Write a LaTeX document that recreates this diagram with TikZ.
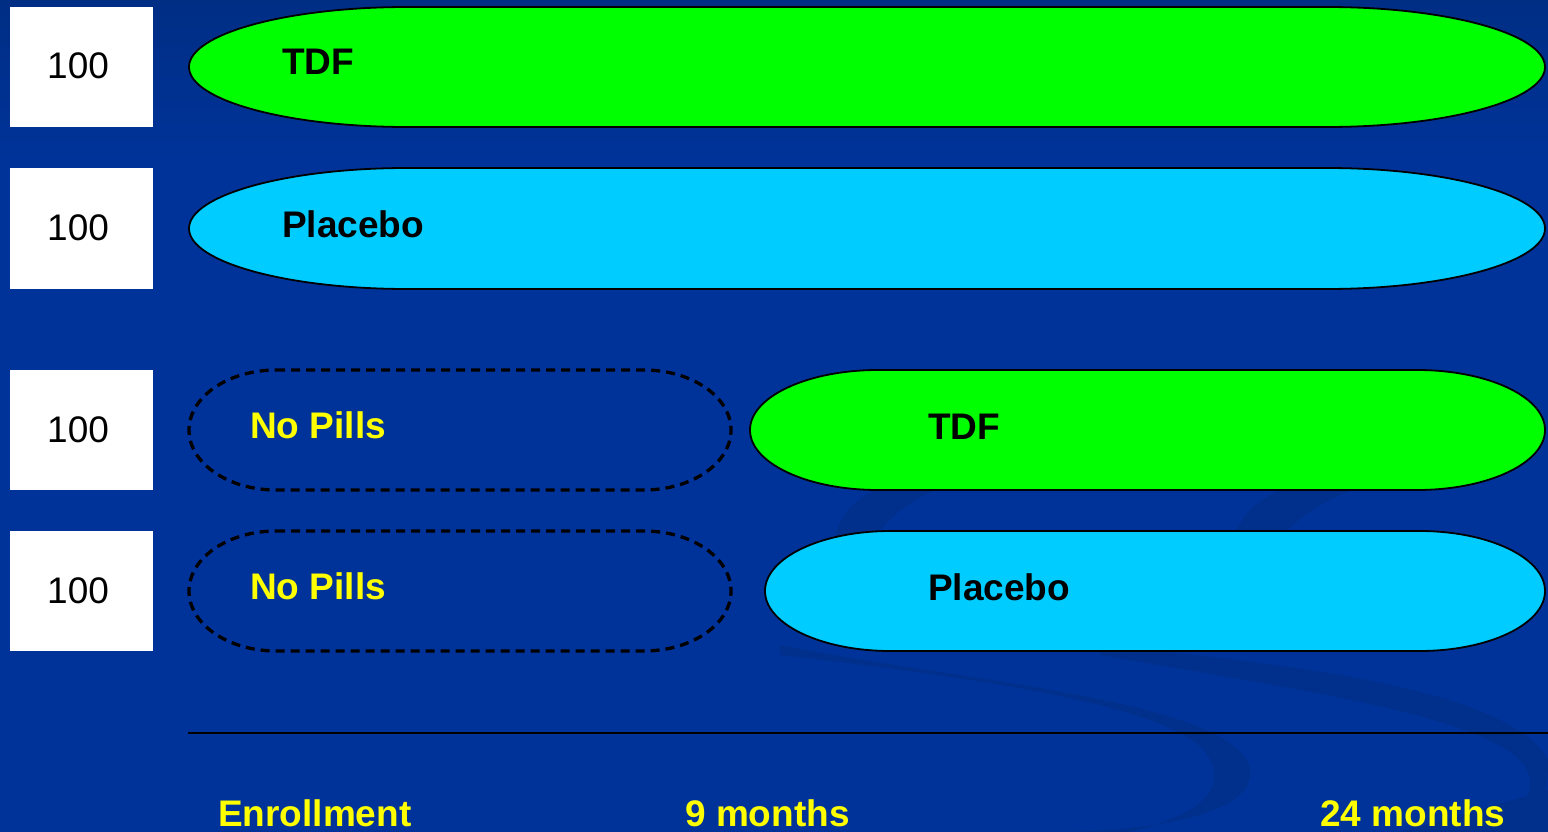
\documentclass[tikz,border=0pt]{standalone}
\usepackage{fontspec}
\setmainfont{Liberation Sans}
\definecolor{bgblue}{HTML}{003399}
\definecolor{swirl}{HTML}{00308C}
\definecolor{topblue}{HTML}{002E85}
\definecolor{tgreen}{HTML}{00FF00}
\definecolor{tcyan}{HTML}{00CCFF}
\definecolor{tyellow}{HTML}{FFFF00}
\newcommand\drawterm[5]{%
  \pgfmathsetmacro\tmrx{0.1609*(#4-#2)}%
  \pgfmathsetmacro\tmry{(#5-#3)/2}%
  \draw[#1] (#2+\tmrx,#3) -- (#4-\tmrx,#3)
    arc[start angle=-90,end angle=90,x radius=\tmrx,y radius=\tmry]
    -- (#2+\tmrx,#5)
    arc[start angle=90,end angle=270,x radius=\tmrx,y radius=\tmry] -- cycle;%
}
\begin{document}
\begin{tikzpicture}[x=1pt,y=-1pt,
  solidterm/.style={draw=black,line width=1.8pt},
  dashterm/.style={draw=black,line width=3.3pt,dash pattern=on 9pt off 6pt},
  countbox/.style={fill=white,draw=none},
  counttext/.style={anchor=base west,font=\fontsize{37}{40}\selectfont,text=black,inner sep=0pt},
  armtext/.style={anchor=base west,font=\fontsize{37}{40}\selectfont\bfseries,text=black,inner sep=0pt},
  notext/.style={anchor=base west,font=\fontsize{37}{40}\selectfont\bfseries,text=tyellow,inner sep=0pt},
  timetext/.style={anchor=base west,font=\fontsize{37}{40}\selectfont\bfseries,text=tyellow,inner sep=0pt}]
\useasboundingbox (0,0) rectangle (1548,832);
\fill[bgblue] (0,0) rectangle (1548,832);
\shade[top color=topblue,bottom color=bgblue,draw=none] (0,0) rectangle (1548,160);
% subtle background swirls
\fill[swirl] (835,540) .. controls (840,500) and (880,480) .. (950,470)
  -- (1000,470) .. controls (930,485) and (890,510) .. (875,540) -- cycle;
\fill[swirl] (1235,540) .. controls (1240,500) and (1290,478) .. (1370,470)
  -- (1420,470) .. controls (1350,485) and (1300,510) .. (1280,540) -- cycle;
\fill[swirl] (780,645) .. controls (950,680) and (1240,700) .. (1250,770)
  .. controls (1255,815) and (1150,832) .. (1050,832) -- (1130,832)
  .. controls (1200,815) and (1225,790) .. (1210,760)
  .. controls (1190,710) and (1000,680) .. (780,655) -- cycle;
\fill[swirl] (1100,655) .. controls (1300,690) and (1525,720) .. (1530,780)
  .. controls (1532,815) and (1500,832) .. (1460,832) -- (1505,832)
  .. controls (1545,820) and (1548,790) .. (1548,760)
  .. controls (1510,690) and (1300,665) .. (1100,645) -- cycle;
\fill[swirl] (1400,832) -- (1548,790) -- (1548,832) -- cycle;
% count boxes
\fill[countbox] (10,7) rectangle (153,127);
\fill[countbox] (10,168) rectangle (153,289);
\fill[countbox] (10,370) rectangle (153,490);
\fill[countbox] (10,531) rectangle (153,651);
\node[counttext] (n1) at (47,79) {100};
\node[counttext] (n2) at (47,240) {100};
\node[counttext] (n3) at (47,442) {100};
\node[counttext] (n4) at (47,603) {100};
% arms
\drawterm{solidterm,fill=tgreen}{189}{7}{1545}{127}
\drawterm{solidterm,fill=tcyan}{189}{168}{1545}{289}
\drawterm{dashterm}{189}{370}{731}{490}
\drawterm{solidterm,fill=tgreen}{750}{370}{1545}{490}
\drawterm{dashterm}{189}{531}{731}{651}
\drawterm{solidterm,fill=tcyan}{765}{531}{1545}{651}
\node[armtext] (a1) at (282,75) {TDF};
\node[armtext] (a2) at (282,237) {Placebo};
\node[notext] (a3) at (250,438) {No Pills};
\node[armtext] (a4) at (928,439) {TDF};
\node[notext] (a5) at (250,599) {No Pills};
\node[armtext] (a6) at (928,600) {Placebo};
% time axis
\coordinate (axl) at (188,733);
\coordinate (axr) at (1548,733);
\draw[black,line width=2.5pt] (axl) -- (axr);
\node[timetext] (t1) at (218,826) {Enrollment};
\node[timetext] (t2) at (685,826) {9 months};
\node[timetext] (t3) at (1320,826) {24 months};
\end{tikzpicture}
\end{document}
